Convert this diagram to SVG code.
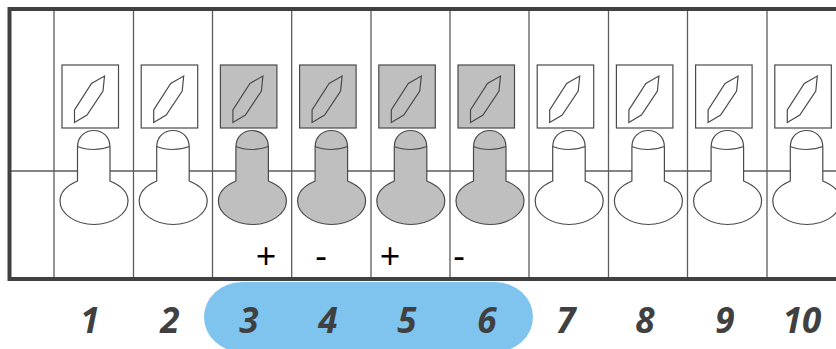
<svg xmlns="http://www.w3.org/2000/svg" width="836" height="349" viewBox="0 0 836 349">
<style>
.grid{stroke:#5c5c5c;stroke-width:1.3;fill:none}
.frame{stroke:#404040;stroke-width:4;fill:none}
.s{stroke:#4a4a4a;stroke-width:1.2}
.off{fill:#fff}
.on{fill:#bfbfbf}
.n{font:italic 700 35px "Open Sans",sans-serif;fill:#404040;text-anchor:middle}
.p{font:400 36px "Open Sans",sans-serif;fill:#000;text-anchor:middle}
</style>
<defs>
<g id="sw" class="s">
<rect x="62" y="65" width="56.5" height="63"/>
<path d="M74.5 122.5V110L91.5 83.5L104.5 76L103 91L87 115Z"/>
<path d="M77.5 181V147C77.5 125 110 125 110 147V181C122 186 128 193 128 201C128 214 112 224.500 94 224.500C76 224.500 60 214 60 201C60 193 66 186 77.500 181Z"/>
<path d="M77.500 146.500C87 150.500 100 150.500 110 146.500" fill="none"/>
</g>
</defs>
<rect x="204" y="282" width="329" height="70" rx="38" ry="35" fill="#7fc4ef"/>
<g id="connectors" class="grid">
<path d="M11 171H836M54 11V278M133.500 11V278M212.500 11V278M291.700 11V278M371 11V278M450 11V278M529 11V278M608.500 11V278M687.500 11V278M767 11V278"/>
</g>
<path class="frame" d="M836 9H9.500V279H836"/>
<g id="node1" class="off"><use href="#sw"/></g>
<g id="node2" class="off"><use href="#sw" x="79.200"/></g>
<g id="node3" class="on"><use href="#sw" x="158.400"/></g>
<g id="node4" class="on"><use href="#sw" x="237.600"/></g>
<g id="node5" class="on"><use href="#sw" x="316.800"/></g>
<g id="node6" class="on"><use href="#sw" x="396"/></g>
<g id="node7" class="off"><use href="#sw" x="475.200"/></g>
<g id="node8" class="off"><use href="#sw" x="554.400"/></g>
<g id="node9" class="off"><use href="#sw" x="633.600"/></g>
<g id="node10" class="off"><use href="#sw" x="712.800"/></g>
<g id="labels">
<text class="p" x="266" y="269">+</text><text class="p" x="321" y="269">-</text><text class="p" x="390" y="269">+</text><text class="p" x="459" y="269">-</text>
<text class="n" x="90" y="333">1</text><text class="n" x="170" y="333">2</text><text class="n" x="249" y="333">3</text><text class="n" x="328" y="333">4</text><text class="n" x="407" y="333">5</text><text class="n" x="487" y="333">6</text><text class="n" x="566" y="333">7</text><text class="n" x="645" y="333">8</text><text class="n" x="725" y="333">9</text><text class="n" x="802" y="333">10</text>
</g>
</svg>
